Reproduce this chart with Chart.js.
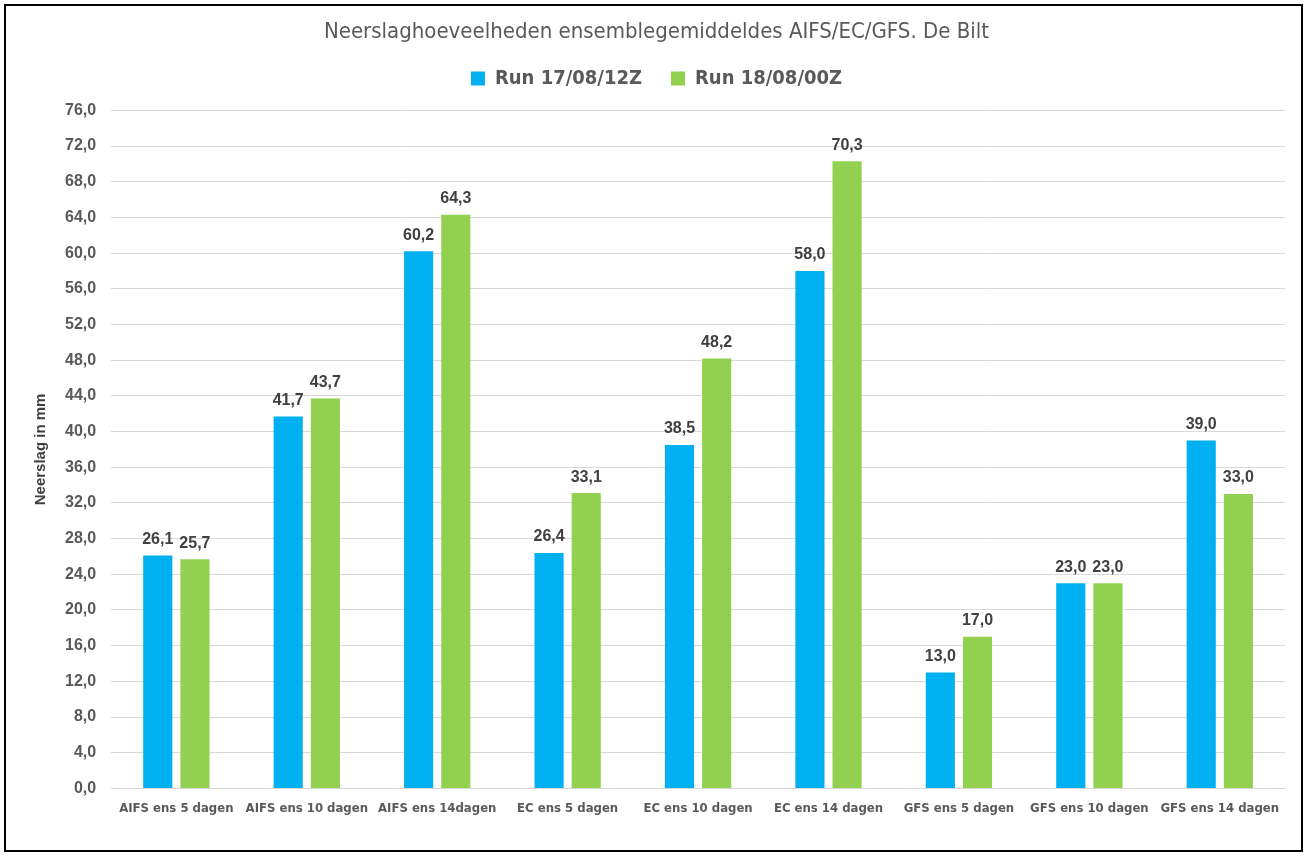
<!DOCTYPE html>
<html>
<head>
<meta charset="utf-8">
<script src="https://cdn.jsdelivr.net/npm/chart.js@4/dist/chart.umd.min.js"></script>
<style>
  html, body { margin: 0; padding: 0; background: #fff; }
  #frame {
    position: absolute; left: 4px; top: 4px;
    width: 1299px; height: 848px;
    border: 2px solid #000; box-sizing: border-box;
  }
  #chart { display: block; }
</style>
</head>
<body>
<div id="frame"><canvas id="chart" width="1295" height="844"></canvas></div>
<script>
const categories = [
  "AIFS ens 5 dagen", "AIFS ens 10 dagen", "AIFS ens 14dagen",
  "EC ens 5 dagen", "EC ens 10 dagen", "EC ens 14 dagen",
  "GFS ens 5 dagen", "GFS ens 10 dagen", "GFS ens 14 dagen"
];
const run1712 = [26.1, 41.7, 60.2, 26.4, 38.5, 58.0, 13.0, 23.0, 39.0];
const run1800 = [25.7, 43.7, 64.3, 33.1, 48.2, 70.3, 17.0, 23.0, 33.0];
const seriesNames = ["Run 17/08/12Z", "Run 18/08/00Z"];
const yMin = 0, yMax = 76, yStep = 4;

const fmt = v => v.toFixed(1).replace(".", ",");
const narrow = "'DejaVu Sans Condensed', 'Liberation Sans Narrow', sans-serif";
const sans = "'Liberation Sans', Arial, sans-serif";
const textGrey = "#595959";

// value labels above every bar, placed from the bar elements themselves
const valueLabels = {
  id: "valueLabels",
  afterDatasetsDraw(chart) {
    const ctx = chart.ctx;
    ctx.save();
    ctx.font = "bold 16px " + sans;
    ctx.fillStyle = "#404040";
    ctx.textAlign = "center";
    ctx.textBaseline = "bottom";
    chart.data.datasets.forEach((ds, i) => {
      chart.getDatasetMeta(i).data.forEach((bar, j) => {
        ctx.fillText(fmt(ds.data[j]), bar.x, bar.y - 8);
      });
    });
    ctx.restore();
  }
};

// legend padding is large for the item gap; pull the drawn legend up a bit
const legendShift = {
  id: "legendShift",
  afterLayout(chart) {
    chart.legend.top -= 12;
    chart.legend.bottom -= 12;
  }
};

new Chart(document.getElementById("chart"), {
  type: "bar",
  data: {
    labels: categories,
    datasets: [
      { label: seriesNames[0], data: run1712, backgroundColor: "#00B0F0" },
      { label: seriesNames[1], data: run1800, backgroundColor: "#92D050" }
    ]
  },
  options: {
    responsive: false,
    animation: false,
    devicePixelRatio: 1,
    layout: { padding: { left: 22, right: 16, top: 10, bottom: 30 } },
    datasets: { bar: { categoryPercentage: 0.57, barPercentage: 0.784 } },
    plugins: {
      title: {
        display: true,
        text: "Neerslaghoeveelheden ensemblegemiddeldes AIFS/EC/GFS. De Bilt",
        color: textGrey,
        font: { family: narrow, size: 22, weight: "normal" },
        padding: { top: 3, bottom: 6 }
      },
      legend: {
        position: "top",
        labels: {
          color: textGrey,
          font: { family: narrow, size: 20, weight: "bold" },
          boxWidth: 14, boxHeight: 14,
          padding: 29
        }
      },
      tooltip: { enabled: false }
    },
    scales: {
      x: {
        grid: { display: false },
        border: { color: "#d9d9d9" },
        ticks: {
          color: textGrey,
          font: { family: narrow, size: 13, weight: "bold" },
          maxRotation: 0,
          autoSkip: false,
          padding: 4
        }
      },
      y: {
        min: yMin, max: yMax,
        grid: { color: "#d9d9d9", drawTicks: false },
        border: { display: false },
        ticks: {
          stepSize: yStep,
          color: textGrey,
          font: { family: sans, size: 16, weight: "bold" },
          padding: 15,
          callback: v => fmt(v)
        },
        title: {
          display: true,
          text: "Neerslag in mm",
          color: "#404040",
          font: { family: sans, size: 15, weight: "bold" },
          padding: { top: 4, bottom: 0 }
        }
      }
    }
  },
  plugins: [valueLabels, legendShift]
});
</script>
</body>
</html>
